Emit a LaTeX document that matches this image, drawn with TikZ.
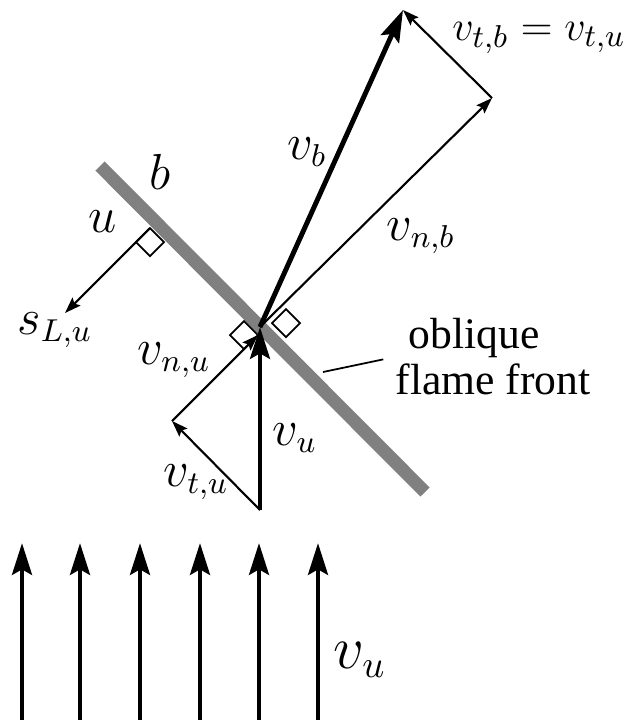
\documentclass[tikz,border=0pt]{standalone}
\usepackage{fontspec}
\setmainfont{Liberation Serif}
\usetikzlibrary{arrows.meta}

\begin{document}
\begin{tikzpicture}[
    x=0.01cm, y=-0.01cm,
    front/.style={
        line width=3.7pt,
        draw=black!50
    },
    bold/.style={
        line width=1.4pt,
        -{Stealth[length=9pt, width=5.6pt, inset=1.5pt]}
    },
    thin/.style={
        line width=0.6pt,
        -{Stealth[length=4.6pt, width=3.2pt, inset=0.8pt]}
    },
    rangle/.style={
        line width=0.5pt,
        fill=white
    },
    lbl/.style={
        inner sep=0pt,
        font=\fontsize{13.5}{13.5}\selectfont
    }
]

\useasboundingbox (0,0) rectangle (633,720);

% flame front
\coordinate (fronta) at (100,166);
\coordinate (frontb) at (425,492);
\draw[front] (fronta) -- (frontb);

% velocity triangle points
\coordinate (O) at (260,327);
\coordinate (P) at (260,510);
\coordinate (Q) at (172,421);
\coordinate (E) at (258,335);
\coordinate (R) at (492,98);
\coordinate (T) at (403,10);
\coordinate (sfoot) at (150,228);
\coordinate (stip) at (65,313);

% right angles
\draw[rangle] (sfoot) -- (164,242) -- (150,256) -- (136,242) -- cycle;
\draw[rangle] (E) -- (244,321) -- (230,335) -- (244,349) -- cycle;
\draw[rangle] (272,323) -- (286,309) -- (300,323) -- (286,337) -- cycle;

% unburnt side
\draw[bold] (P) -- (O);
\draw[thin] (P) -- (Q);
\draw[thin] (Q) -- (E);
\draw[thin] (sfoot) -- (stip);

% burnt side
\draw[bold] (O) -- (T);
\draw[thin] (O) -- (R);
\draw[thin] (R) -- (T);

% incoming flow
\foreach \x [count=\i] in {22,80,140,200,259,318} {
    \coordinate (in\i a) at (\x,720);
    \coordinate (in\i b) at (\x,543);
    \draw[bold] (in\i a) -- (in\i b);
}

% labels
\node[lbl] (lb) at (160,172) {$b$};
\node[lbl] (lu) at (103,222) {$u$};
\node[lbl] (lsl) at (55,330) {$s_{L,u}$};
\node[lbl] (lvnu) at (174,360) {$v_{n,u}$};
\node[lbl] (lvtu) at (196,482) {$v_{t,u}$};
\node[lbl] (lvu) at (295,438) {$v_u$};
\node[lbl] (lvb) at (307,152) {$v_b$};
\node[lbl] (lvnb) at (421,236) {$v_{n,b}$};
\node[lbl, font=\fontsize{12.5}{12.5}\selectfont] (lvtb) at (539,38) {$v_{t,b} = v_{t,u}$};
\node[lbl, font=\fontsize{16}{16}\selectfont] (lvin) at (360,660) {$v_u$};

\node[lbl, font=\fontsize{12.4}{13}\selectfont, align=left, anchor=north west]
    (lfront) at (395,318) {\hspace*{3.7pt}oblique\\flame front};

\coordinate (leadfoot) at (323,372);
\draw[line width=0.5pt, shorten >=3.4pt] (leadfoot) -- (lfront.west);

\end{tikzpicture}
\end{document}
